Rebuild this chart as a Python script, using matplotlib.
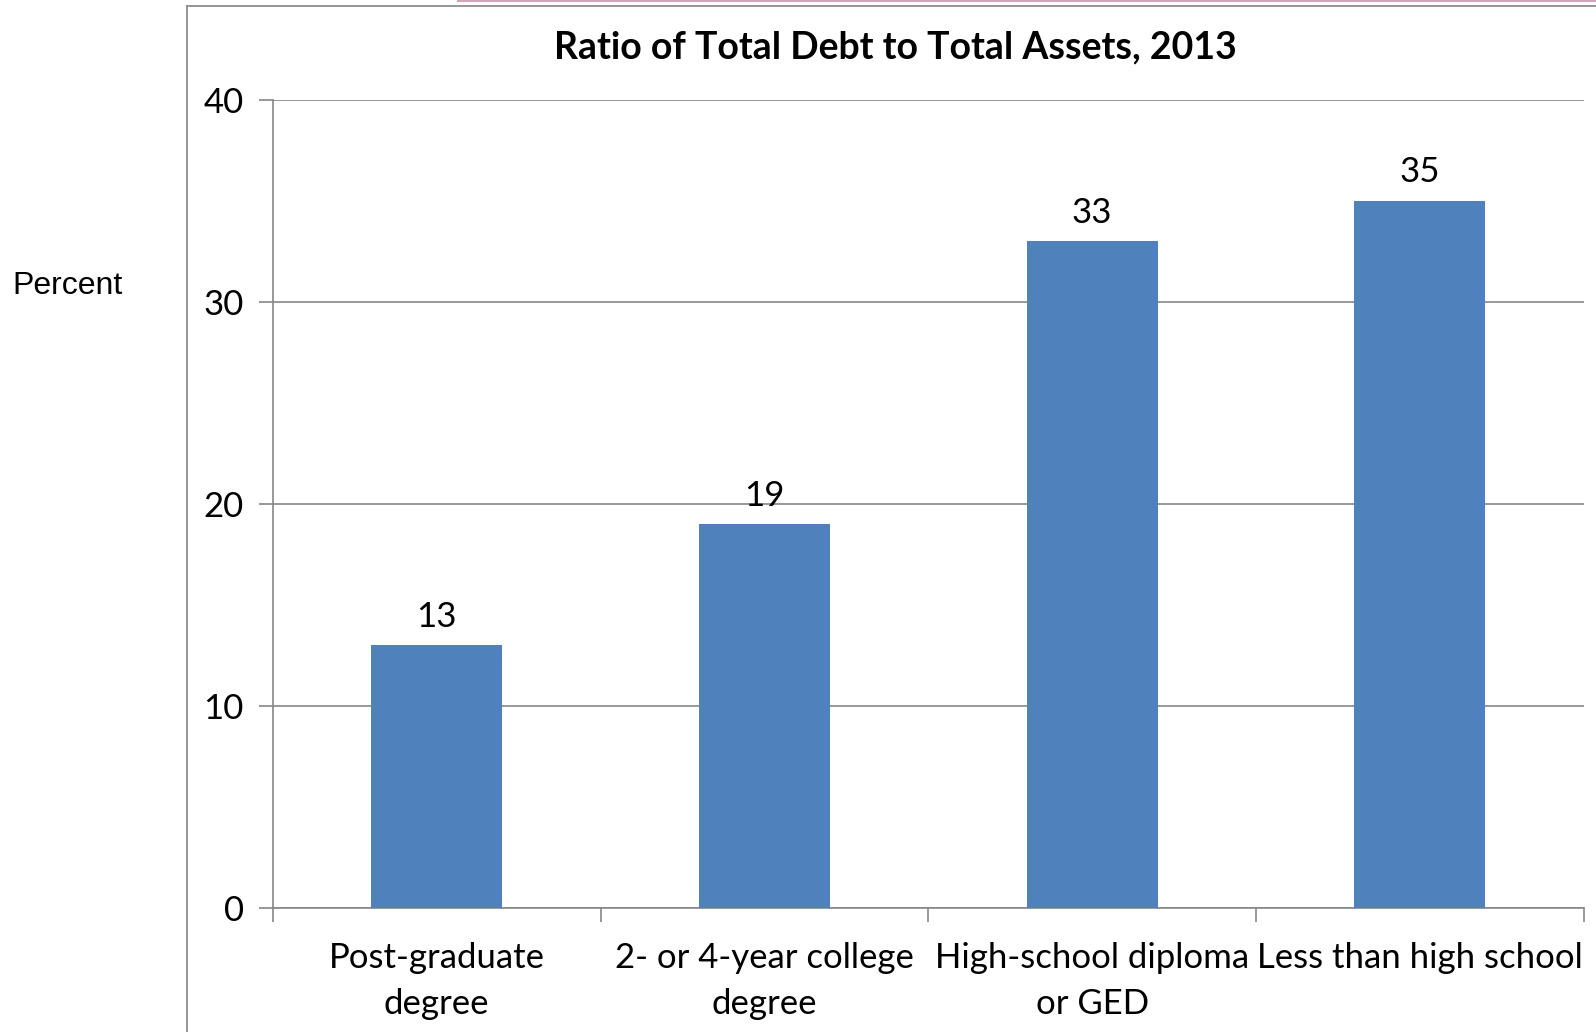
import matplotlib
matplotlib.use("Agg")
import matplotlib.pyplot as plt
from matplotlib.lines import Line2D

categories = ["Post-graduate\ndegree", "2- or 4-year college\ndegree",
              "High-school diploma\nor GED", "Less than high school"]
values = [13, 19, 33, 35]
yticks = [0, 10, 20, 30, 40]
title = "Ratio of Total Debt to Total Assets, 2013"
ylabel = "Percent"

W, H = 1596, 1032
fig = plt.figure(figsize=(W / 100, H / 100), dpi=100)
ax = fig.add_axes([272.8 / W, 1 - 908 / H, (1583.8 - 272.8) / W, (908 - 99.8) / H])

FONT = "Lato"
grid_c = "#868686"
bar_c = "#4F81BD"

x = list(range(len(categories)))
bars = ax.bar(x, values, width=0.4, color=bar_c, zorder=3)
for xi, v in zip(x, values):
    ax.annotate(str(v), (xi, v), xytext=(0, 9), textcoords="offset points",
                ha="center", va="bottom", fontsize=25, family=FONT, color="black")

ax.set_xlim(-0.5, len(categories) - 0.5)
ax.set_ylim(0, 40)
ax.set_yticks(yticks)
ax.set_yticklabels([str(t) for t in yticks], fontsize=25, family=FONT)
ax.yaxis.grid(True, color=grid_c, linewidth=1.2, zorder=0)
ax.set_axisbelow(True)

ax.set_xticks(x)
ax.set_xticklabels(categories, fontsize=25, family=FONT, linespacing=1.55)
ax.set_xticks([i - 0.5 for i in range(len(categories) + 1)], minor=True)
ax.tick_params(axis="x", which="major", length=0, pad=24.5)
ax.tick_params(axis="x", which="minor", length=10, color=grid_c, width=1.2, direction="out")
ax.tick_params(axis="y", length=10, color=grid_c, width=1.2, direction="out", pad=11)

for s in ["top", "right"]:
    ax.spines[s].set_visible(False)
for s in ["left", "bottom"]:
    ax.spines[s].set_color(grid_c)
    ax.spines[s].set_linewidth(1.2)

fig.text(895.7 / W, 1 - 47.5 / H, title, ha="center", va="center",
         fontsize=27, fontweight="bold", family=FONT)
fig.text(12 / W, 1 - 286 / H, ylabel, ha="left", va="center",
         fontsize=23, family="Liberation Sans")

# outer chart frame (left and top edges)
fig.add_artist(Line2D([187.3 / W, 187.3 / W], [0, 1 - 6.1 / H], transform=fig.transFigure,
                      color="#8c8c8c", linewidth=1.3))
fig.add_artist(Line2D([187.3 / W, 1], [1 - 6.1 / H, 1 - 6.1 / H], transform=fig.transFigure,
                      color="#8c8c8c", linewidth=1.3))
fig.add_artist(Line2D([458 / W, 1], [1 - 0.8 / H, 1 - 0.8 / H], transform=fig.transFigure,
                      color="#d4a6bd", linewidth=1.5))

fig.savefig("out.png", dpi=100)
